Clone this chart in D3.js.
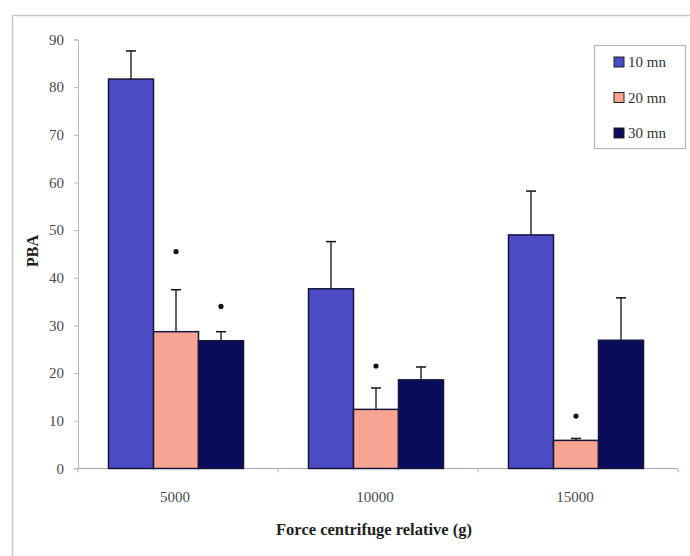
<!DOCTYPE html>
<html>
<head>
<meta charset="utf-8">
<script src="https://cdn.jsdelivr.net/npm/d3@7"></script>
<style>
  html, body { margin: 0; padding: 0; background: #fff; }
  svg { display: block; }
</style>
</head>
<body>
<svg id="chart" width="690" height="556"></svg>
<script>
// Centrifugal force groups and durations
const categories = ["5000", "10000", "15000"];
const seriesNames = ["10 mn", "20 mn", "30 mn"];
const seriesColors = ["#4b4bc4", "#f8a493", "#0b0b5c"];
// Mean PBA per series (one value per category)
const values10 = [81.7, 37.7, 49.0];
const values20 = [28.7, 12.4, 5.9];
const values30 = [26.8, 18.6, 26.9];
// Upper error bar (mean + SD)
const errTop10 = [87.6, 47.6, 58.2];
const errTop20 = [37.5, 16.9, 6.3];
const errTop30 = [28.7, 21.3, 35.8];
// Significance markers: [category index, series index, y position]
const stars = [[0, 1, 45.5], [0, 2, 34.0], [1, 1, 21.5], [2, 1, 11.0]];
const yTicks = [0, 10, 20, 30, 40, 50, 60, 70, 80, 90];

const seriesValues = [values10, values20, values30];
const seriesErr = [errTop10, errTop20, errTop30];

const svg = d3.select("#chart");
const y0 = 468.5, yTop = 39.5;

// outer frame
svg.append("path")
  .attr("d", "M12.5,556 L12.5,15.5 L690,15.5")
  .attr("fill", "none").attr("stroke", "#c8c8c8").attr("stroke-width", 1.5);

const x = d3.scaleBand().domain(categories).range([78, 678]).paddingInner(0).paddingOuter(0);
const xs = d3.scaleBand().domain(d3.range(3)).range([0, 135]);
const y = d3.scaleLinear().domain([0, 90]).range([y0, yTop]);

const serif = "'Liberation Serif', 'Times New Roman', serif";

// y axis
const yAxis = svg.append("g").attr("transform", "translate(78,0)")
  .call(d3.axisLeft(y).tickValues(yTicks).tickSize(4).tickPadding(10));
yAxis.select(".domain").attr("stroke", "#b8b8c0");
yAxis.selectAll(".tick line").attr("stroke", "#b8b8c0");
yAxis.selectAll(".tick text").attr("font-family", serif).attr("font-size", 15).attr("fill", "#4a4a4a");

// x axis with ticks at category boundaries
const xAxisG = svg.append("g").attr("transform", `translate(0,${y0})`);
xAxisG.append("line").attr("x1", 78).attr("x2", 678).attr("y1", 0).attr("y2", 0)
  .attr("stroke", "#a8a8c8").attr("stroke-width", 1.2);
const bounds = categories.map(c => x(c)).concat([x(categories[2]) + x.bandwidth()]);
xAxisG.selectAll("line.bt").data(bounds).join("line").attr("class", "bt")
  .attr("x1", d => d).attr("x2", d => d).attr("y1", 0).attr("y2", 4)
  .attr("stroke", "#a8a8c8");
xAxisG.selectAll("text").data(categories).join("text")
  .attr("x", d => x(d) + x.bandwidth() / 2 - 3)
  .attr("y", 33)
  .attr("text-anchor", "middle")
  .attr("font-family", serif).attr("font-size", 15).attr("fill", "#4a4a4a")
  .text(d => d);

// bars
const groupOffset = (x.bandwidth() - 135) / 2 - 2;
categories.forEach((c, ci) => {
  const gx = x(c) + groupOffset;
  seriesValues.forEach((vals, si) => {
    const bx = gx + xs(si);
    const bw = xs.bandwidth();
    // error bar
    const cx = bx + bw / 2;
    svg.append("line").attr("x1", cx).attr("x2", cx)
      .attr("y1", y(vals[ci])).attr("y2", y(seriesErr[si][ci]))
      .attr("stroke", "#111").attr("stroke-width", 1.3);
    svg.append("line").attr("x1", cx - 5).attr("x2", cx + 5)
      .attr("y1", y(seriesErr[si][ci])).attr("y2", y(seriesErr[si][ci]))
      .attr("stroke", "#111").attr("stroke-width", 1.5);
    svg.append("rect")
      .attr("x", bx).attr("y", y(vals[ci]))
      .attr("width", bw).attr("height", y0 - y(vals[ci]))
      .attr("fill", seriesColors[si])
      .attr("stroke", "#15153a").attr("stroke-width", 1.5);
  });
});

// significance markers
stars.forEach(([ci, si, v]) => {
  const cx = x(categories[ci]) + groupOffset + xs(si) + xs.bandwidth() / 2;
  svg.append("circle").attr("cx", cx).attr("cy", y(v)).attr("r", 2.6).attr("fill", "#111");
});

// axis titles
svg.append("text")
  .attr("transform", "translate(38,251) rotate(-90)")
  .attr("text-anchor", "middle")
  .attr("font-family", serif).attr("font-size", 16).attr("font-weight", "bold").attr("fill", "#222")
  .text("PBA");
svg.append("text")
  .attr("x", 374).attr("y", 535)
  .attr("text-anchor", "middle")
  .attr("font-family", serif).attr("font-size", 16.5).attr("font-weight", "bold").attr("fill", "#222")
  .text("Force centrifuge relative (g)");

// legend
const lg = svg.append("g");
lg.append("rect").attr("x", 594.5).attr("y", 45.5).attr("width", 91).attr("height", 103)
  .attr("fill", "#fff").attr("stroke", "#b8b8b8").attr("stroke-width", 1.2);
seriesNames.forEach((name, i) => {
  const ly = 62 + i * 35.5;
  lg.append("rect").attr("x", 614).attr("y", ly - 5).attr("width", 10).attr("height", 10)
    .attr("fill", seriesColors[i]).attr("stroke", "#222").attr("stroke-width", 1);
  lg.append("text").attr("x", 628).attr("y", ly + 5)
    .attr("font-family", serif).attr("font-size", 15).attr("fill", "#333")
    .text(name);
});
</script>
</body>
</html>
